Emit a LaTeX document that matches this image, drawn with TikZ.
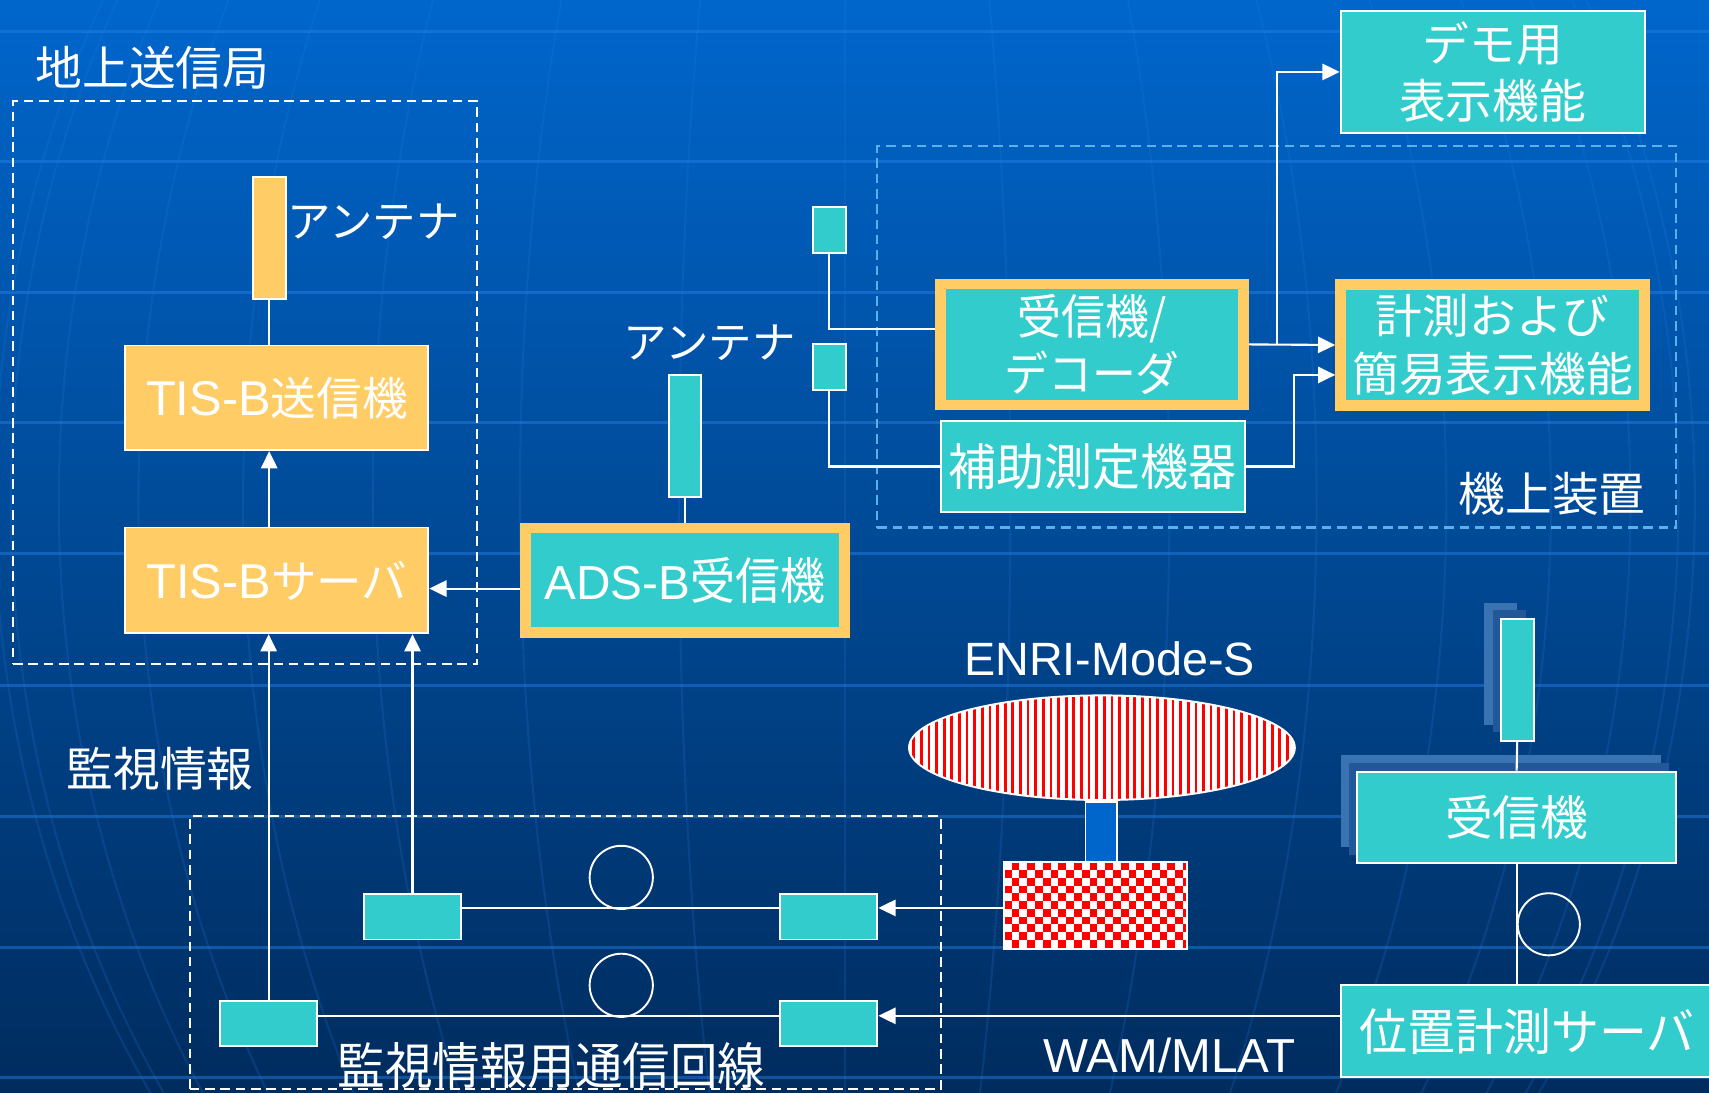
\documentclass[tikz,border=0pt]{standalone}
\usepackage{fontspec}
\setmainfont{Noto Sans CJK JP}
\newfontfamily\latf{Liberation Sans}
\usetikzlibrary{arrows.meta,shapes.geometric}
\definecolor{cOrng}{RGB}{255,204,102}
\definecolor{cTeal}{RGB}{51,204,204}
\definecolor{cTop}{RGB}{0,102,204}
\definecolor{cBot}{RGB}{0,44,94}
\definecolor{cGrid}{RGB}{40,130,235}
\definecolor{cMer}{RGB}{40,120,220}
\definecolor{cAir}{RGB}{90,176,234}
\definecolor{cShA}{RGB}{58,115,178}
\definecolor{cShB}{RGB}{34,88,152}
\definecolor{cLink}{RGB}{0,102,204}
\definecolor{cRed}{RGB}{255,0,0}
\newcommand\fz[1]{\fontsize{#1pt}{30pt}\selectfont}
\tikzset{
 wh/.style 2 args={minimum width=#1*0.02cm, minimum height=#2*0.02cm},
 base/.style={inner sep=0pt, text=white, align=center},
 obox/.style={base, rectangle, fill=cOrng, draw=white, line width=1pt},
 tbox/.style={base, rectangle, fill=cTeal, draw=white, line width=1pt},
 hbox/.style={base, rectangle, fill=cTeal, draw=cOrng, line width=5.6pt},
 lbl/.style={base},
 conn/.style={draw=white, line width=1.1pt},
 arr/.style={conn, -{Triangle[length=9pt,width=8.5pt]}},
 frameW/.style={draw=white, line width=1.1pt, dash pattern=on 5pt off 3pt, inner sep=0pt},
 frameB/.style={draw=cAir, line width=1.1pt, dash pattern=on 5pt off 3pt, inner sep=0pt},
 ring/.style={draw=white, line width=1pt, inner sep=0pt},
}
\begin{document}
\begin{tikzpicture}[x=0.02cm, y=-0.02cm]
% background
\fill[top color=cTop, bottom color=cBot] (0,0) rectangle (1568,1002);
\useasboundingbox (0,0) rectangle (1568,1002);
\foreach \yy in {29,148,268,388,508,629,749,869,989}
  \draw[cGrid, opacity=.45, line width=1.6pt] (0,\yy) -- (1568,\yy);
\begin{scope}
\clip (0,0) rectangle (1568,1002);
\draw[cMer, opacity=.2, line width=1.1pt] (775,-480) -- (775,1400);
\foreach \a in {152,298,433,552,648,721,765,780}
  \draw[cMer, opacity=.2, line width=1.1pt] (775,460) ellipse [x radius=\a, y radius=940];
\end{scope}

% ground station
\node[lbl, font=\fz{24.4}] (tGround) at (140,62) {地上送信局};
\node[frameW, wh={426}{516}] (ground) at (225,351) {};
\node[obox, wh={30}{112}] (antG) at (247,218) {};
\node[lbl, font=\fz{22.7}] (tAntG) at (343,203) {アンテナ};
\node[obox, wh={278}{96}, font=\fz{23.8}] (tx) at (254,365) {{\latf\fz{25.5}TIS-B}送信機};
\node[obox, wh={278}{97}, font=\fz{23.8}] (srv) at (254,532.5) {{\latf\fz{25.5}TIS-B}サーバ};

% ADS-B
\node[hbox, wh={293}{96}, font=\fz{26.1}] (adsb) at (628.5,532.5) {{\latf\fz{24.9}ADS-B}\scalebox{0.9}[1]{受信機}};
\node[tbox, wh={29}{112}] (antA) at (628.5,400) {};
\node[lbl, font=\fz{22.7}] (tAntA) at (651,314) {アンテナ};

% airborne
\node[frameB, wh={733}{350}] (air) at (1171.5,309) {};
\node[lbl, font=\fz{24.4}] (tAir) at (1424,453) {機上装置};
\node[tbox, wh={30}{42}] (antS1) at (761,211) {};
\node[tbox, wh={30}{42}] (antS2) at (761,337) {};
\node[hbox, wh={278}{111}, font=\fz{24.9}] (rxdec) at (1002,316) {\scalebox{0.92}[1]{受信機/}\\\scalebox{0.92}[1]{デコーダ}};
\node[tbox, wh={279}{84}, font=\fz{26.1}] (aux) at (1002.5,428) {\scalebox{0.96}[1]{補助測定機器}};
\node[hbox, wh={279}{111}, font=\fz{24.4}] (meas) at (1369.5,316.5) {計測および\\簡易表示機能};
\node[tbox, wh={279}{112}, font=\fz{24.4}] (demo) at (1369.5,66) {デモ用\\表示機能};

% ENRI Mode-S
\node[lbl, font=\latf\fz{24.4}] (tEnri) at (1018,604) {ENRI-Mode-S};
\node[ellipse, draw=white, line width=1pt, fill=white, inner sep=0pt, wh={354}{96},
  path picture={\foreach \k in {0,...,50} \fill[cRed] ([xshift=\k*0.14cm+0.06cm]path picture bounding box.south west) rectangle ++(0.05cm,2.2cm);}] (enri) at (1011,686) {};
\node[rectangle, fill=cLink, draw=white, line width=0.8pt, inner sep=0pt, wh={29}{55}] (link) at (1010.5,763.5) {};
\node[rectangle, draw=white, line width=1pt, fill=white, inner sep=0pt, wh={168}{80},
  path picture={\foreach \j in {0,...,11}{\foreach \i in {0,...,23}{\pgfmathtruncatemacro\m{mod(\i+\j,2)}\ifnum\m=1 \fill[cRed] ([xshift=\i*0.143cm, yshift=-\j*0.143cm]path picture bounding box.north west) rectangle ++(0.143cm,-0.143cm);\fi}}}] (checker) at (1005,831) {};

% WAM / MLAT
\fill[cShA] (1362,553) rectangle (1392,665);
\fill[cShB] (1370,560) rectangle (1400,672);
\node[tbox, wh={30}{112}] (antR) at (1392,624) {};
\fill[cShA] (1230,693) rectangle (1524,777);
\fill[cShB] (1238,700) rectangle (1531,784);
\node[tbox, wh={293}{84}, font=\fz{24.9}] (rxR) at (1391.5,750) {受信機};
\node[ring, circle, wh={57}{57}] (cR) at (1421,848) {};
\node[tbox, wh={342}{84}, font=\fz{26.1}] (pos) at (1401,946) {\scalebox{0.96}[1]{位置計測サーバ}};
\node[lbl, font=\latf\fz{24.9}] (tWam) at (1073,968) {WAM/MLAT};

% surveillance link
\node[frameW, wh={689}{250}] (linkbox) at (518.5,874) {};
\node[lbl, font=\fz{26.1}] (tLink) at (506,978) {\scalebox{0.95}[1]{監視情報用通信回線}};
\node[lbl, font=\fz{24.4}] (tMon) at (147,705) {監視情報};
\node[tbox, wh={89}{42}] (mA) at (378.5,841) {};
\node[tbox, wh={89}{42}] (mB) at (760.5,841) {};
\node[tbox, wh={89}{42}] (mC) at (246.5,939) {};
\node[tbox, wh={89}{42}] (mD) at (760.5,939) {};
\node[ring, circle, wh={58}{58}] (cU) at (570,805) {};
\node[ring, circle, wh={58}{58}] (cL) at (570,904) {};

\coordinate (yU) at (0,833);
\coordinate (yL) at (0,932);
\coordinate (br) at (1172,316);

% connectors
\draw[conn] (antG.south) -- (antG.south |- tx.north);
\draw[arr] (antG |- srv.north) -- (antG |- tx.south);
\draw[arr] ([yshift=-0.15cm]adsb.west) -- ([yshift=-0.15cm]srv.east);
\draw[conn] (antA.south) -- (adsb.north);
\draw[conn] (antS1.south) |- ([yshift=0.28cm]rxdec.west);
\draw[conn] (antS2.south) |- (aux.west);
\draw[arr] (rxdec.east) -- (meas.west);
\draw[arr] (br) |- (demo.west);
\draw[arr] (aux.east) -- ++(44,0) |- ([yshift=-0.55cm]meas.west);
\draw[arr] (checker.west |- yU) -- (mB.east |- yU);
\draw[conn] (mA.east |- yU) -- (mB.west |- yU);
\draw[conn] (mC.east |- yL) -- (mD.west |- yL);
\draw[arr] (pos.west |- yL) -- (mD.east |- yL);
\draw[arr] (mA.north) -- (mA.north |- srv.south);
\draw[arr] (mC.north) -- (mC.north |- srv.south);
\draw[conn] (antR.south) -- (rxR.north);
\draw[conn] (rxR.south) -- (rxR.south |- pos.north);
\end{tikzpicture}
\end{document}
